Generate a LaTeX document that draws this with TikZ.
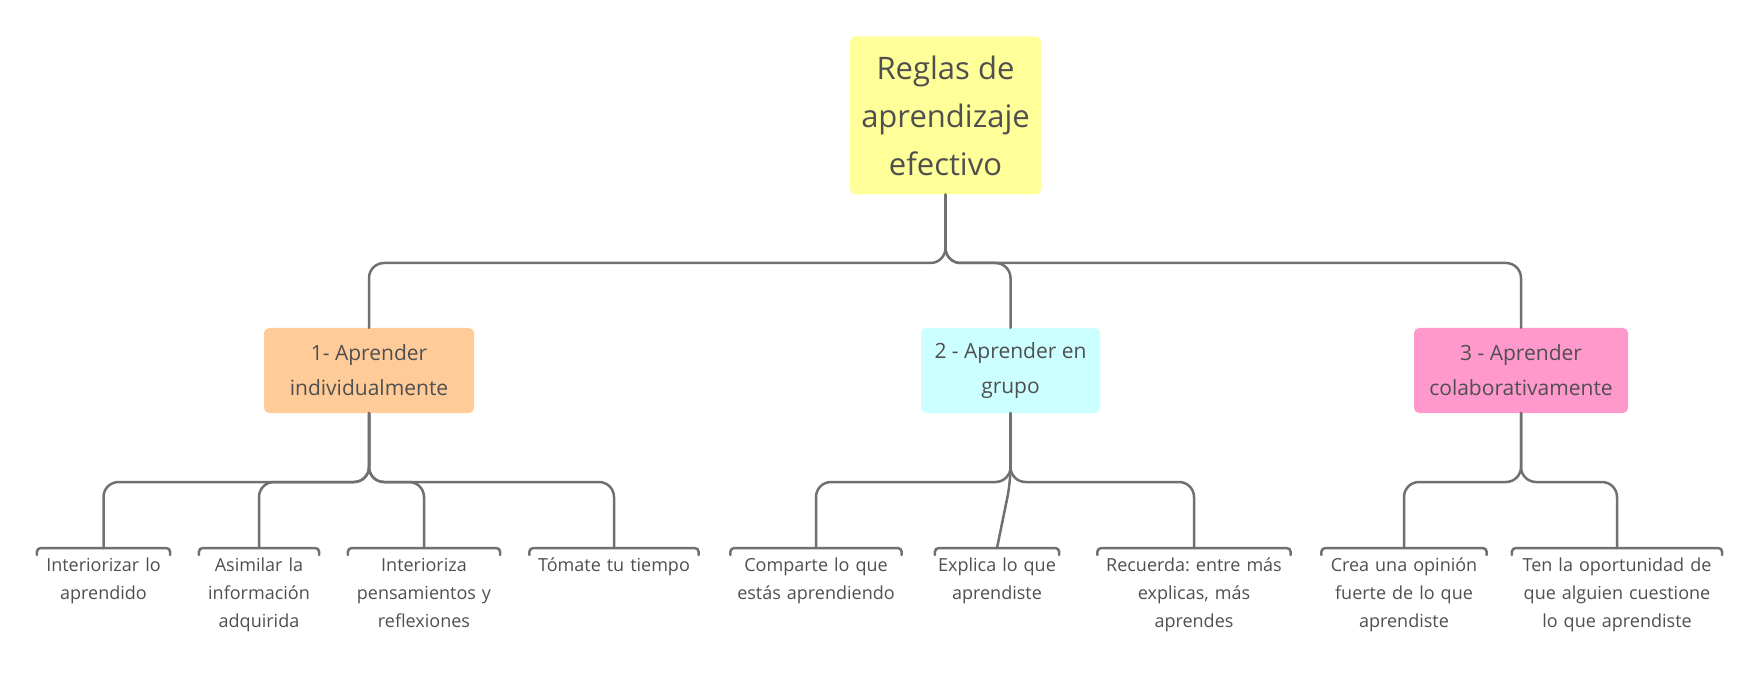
\documentclass[tikz,border=0pt]{standalone}
\usepackage{fontspec}
\setmainfont{Open Sans}
\usetikzlibrary{calc}
\frenchspacing

\definecolor{linegray}{HTML}{707070}
\definecolor{textgray}{HTML}{4F4F4F}
\definecolor{rootfill}{HTML}{FFFF99}
\definecolor{onefill}{HTML}{FFCC99}
\definecolor{twofill}{HTML}{CCFFFF}
\definecolor{threefill}{HTML}{FF99CC}

\tikzset{
  conn/.style={draw=linegray, line width=2.5pt, rounded corners=15pt},
  rootbox/.style={fill=rootfill, rounded corners=5pt, minimum width=191pt, minimum height=158pt,
    align=center, text=textgray, font=\fontsize{31}{48}\selectfont},
  groupbox/.style={rounded corners=5pt, minimum height=85pt, align=center, text=textgray,
    font=\fontsize{21}{35}\selectfont},
  leafbox/.style={anchor=north, inner xsep=0pt, inner ysep=10pt, align=center, text=textgray,
    font=\fontsize{18}{28}\selectfont},
}

\begin{document}
\begin{tikzpicture}[x=1pt, y=-1pt, line cap=round]
		\useasboundingbox (0,0) rectangle (1761,684);
		
		% Buses
		\coordinate (busA) at (0,263);
		\coordinate (busB) at (0,482);
		
		% Nodes
		\node[rootbox] (root) at (945.5,115.5) {Reglas de\\aprendizaje\\efectivo};
		%
		\node[groupbox, fill=onefill, minimum width=210pt] (c1) at (369,370.5) {1- Aprender\\individualmente};
		\node[groupbox, fill=twofill, minimum width=179pt] (c2) at (1010.5,370.5) {2 - Aprender en\\grupo};
		\node[groupbox, fill=threefill, minimum width=214pt] (c3) at (1521,370.5) {3 - Aprender\\colaborativamente};
		%
		\node[leafbox, text width=133pt] (l11) at (103.5,548) {Interiorizar lo\\aprendido};
		\node[leafbox, text width=120pt] (l12) at (259,548) {Asimilar la\\información\\adquirida};
		\node[leafbox, text width=152pt] (l13) at (424,548) {Interioriza\\pensamientos y\\reflexiones};
		\node[leafbox, text width=169pt] (l14) at (614,548) {Tómate tu tiempo};
		%
		\node[leafbox, text width=171pt] (l21) at (816,548) {Comparte lo que\\estás aprendiendo};
		\node[leafbox, text width=124pt] (l22) at (997,548) {Explica lo que\\aprendiste};
		\node[leafbox, text width=193pt] (l23) at (1194,548) {Recuerda: entre más\\explicas, más\\aprendes};
		%
		\node[leafbox, text width=165pt] (l31) at (1404,548) {Crea una opinión\\fuerte de lo que\\aprendiste};
		\node[leafbox, text width=210pt] (l32) at (1617,548) {Ten la oportunidad de\\que alguien cuestione\\lo que aprendiste};
		
		% Brackets
		\foreach \l in {l11,l12,l13,l14,l21,l22,l23,l31,l32}
			\draw[conn, rounded corners=4pt] ([yshift=-7pt]\l.north west) |- (\l.north) -| ([yshift=-7pt]\l.north east);
		
		% Connectors
		\foreach \c in {c1,c2,c3}
			\draw[conn] (root.south) -- (root.south |- busA) -| (\c.north);
		\foreach \l in {l11,l12,l13,l14}
			\draw[conn] (c1.south) -- (c1.south |- busB) -| (\l.north);
		\foreach \l in {l21,l23}
			\draw[conn] (c2.south) -- (c2.south |- busB) -| (\l.north);
		\draw[conn] (c2.south) -- (c2.south |- busB) -- (l22.north);
		\foreach \l in {l31,l32}
			\draw[conn] (c3.south) -- (c3.south |- busB) -| (\l.north);
	\end{tikzpicture}
\end{document}
